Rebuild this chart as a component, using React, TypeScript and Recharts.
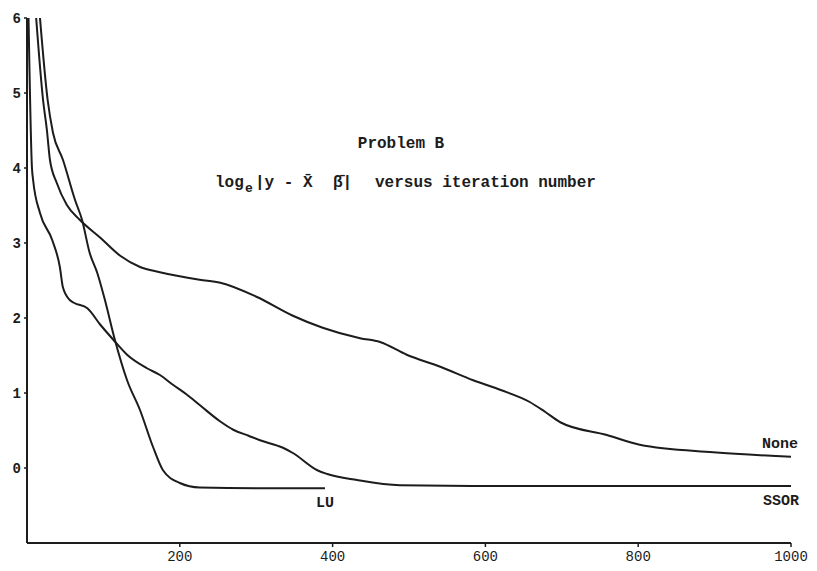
import React from 'react';
import { LineChart, Line, XAxis, YAxis } from 'recharts';

// Iteration numbers and log_e residual values
const luIter = [17, 27, 34, 47, 63, 72, 82, 92, 102, 115, 131, 148, 165, 178, 200, 226, 300, 390];
const luVal = [6.0, 4.91, 4.47, 4.11, 3.57, 3.31, 2.87, 2.6, 2.24, 1.71, 1.17, 0.77, 0.28, -0.03, -0.2, -0.26, -0.27, -0.27];

const ssorIter = [2, 6.5, 8, 17, 33, 43, 47, 56, 62, 79, 96, 113, 131, 157, 174, 191, 209, 226, 253, 270, 290, 305, 335, 348, 380, 393, 432, 488, 600, 800, 1000];
const ssorVal = [6.0, 4.0, 3.84, 3.4, 3.04, 2.68, 2.41, 2.24, 2.2, 2.13, 1.91, 1.71, 1.51, 1.33, 1.24, 1.11, 0.98, 0.84, 0.62, 0.51, 0.43, 0.37, 0.27, 0.2, -0.03, -0.08, -0.16, -0.23, -0.24, -0.24, -0.24];

const noneIter = [12, 21, 26, 30, 39, 52, 69, 96, 122, 148, 174, 226, 253, 301, 348, 387, 436, 462, 497, 541, 584, 620, 658, 678, 698, 759, 802, 898, 1000];
const noneVal = [6.0, 4.91, 4.51, 4.11, 3.8, 3.51, 3.31, 3.07, 2.83, 2.68, 2.61, 2.51, 2.47, 2.28, 2.03, 1.87, 1.73, 1.68, 1.51, 1.35, 1.17, 1.04, 0.88, 0.75, 0.61, 0.44, 0.31, 0.21, 0.15];

const xTicks = [200, 400, 600, 800, 1000];
const yTicks = [0, 1, 2, 3, 4, 5, 6];

const seriesNames = ['LU', 'SSOR', 'None'];

const toRows = (xs: number[], ys: number[]) => xs.map((x, i) => ({ x, y: ys[i] }));

const luData = toRows(luIter, luVal);
const ssorData = toRows(ssorIter, ssorVal);
const noneData = toRows(noneIter, noneVal);

const FONT = '"Liberation Mono", "DejaVu Sans Mono", monospace';
const INK = '#1c1c1c';

const endLabel = (name: string, last: number, dx: number, dy: number, anchor: string) =>
  (props: any) => {
    if (props.index !== last) return null;
    return (
      <text
        key={name}
        x={props.x + dx}
        y={props.y + dy}
        textAnchor={anchor as any}
        fontFamily={FONT}
        fontSize={15}
        fontWeight="bold"
        fill={INK}
      >
        {name}
      </text>
    );
  };

export default function App() {
  return (
    <div style={{ position: 'absolute', left: 0, top: 0, width: 817, height: 571, background: '#fff' }}>
      <LineChart
        width={817}
        height={571}
        margin={{ top: 18, right: 26, bottom: 3, left: 0 }}
        style={{ position: 'absolute', left: 0, top: 0 }}
      >
        <XAxis
          type="number"
          dataKey="x"
          domain={[0, 1000]}
          ticks={xTicks}
          allowDuplicatedCategory={false}
          height={25}
          axisLine={{ stroke: INK, strokeWidth: 2 }}
          tickLine={{ stroke: INK, strokeWidth: 1.5 }}
          tickSize={4}
          tickMargin={4}
          tick={{ fontFamily: FONT, fontSize: 14, fill: INK }}
        />
        <YAxis
          type="number"
          dataKey="y"
          domain={[-1, 6]}
          ticks={yTicks}
          width={27}
          axisLine={{ stroke: INK, strokeWidth: 2 }}
          tickLine={{ stroke: INK, strokeWidth: 1.5 }}
          tickSize={3}
          tickMargin={3}
          tick={{ fontFamily: FONT, fontSize: 14, fontWeight: 'bold', fill: INK }}
        />
        <Line
          data={luData}
          dataKey="y"
          name={seriesNames[0]}
          type="monotone"
          stroke={INK}
          strokeWidth={2}
          dot={false}
          isAnimationActive={false}
          label={endLabel(seriesNames[0], luData.length - 1, 0, 19, 'middle')}
        />
        <Line
          data={ssorData}
          dataKey="y"
          name={seriesNames[1]}
          type="monotone"
          stroke={INK}
          strokeWidth={2}
          dot={false}
          isAnimationActive={false}
          label={endLabel(seriesNames[1], ssorData.length - 1, 8, 19, 'end')}
        />
        <Line
          data={noneData}
          dataKey="y"
          name={seriesNames[2]}
          type="monotone"
          stroke={INK}
          strokeWidth={2}
          dot={false}
          isAnimationActive={false}
          label={endLabel(seriesNames[2], noneData.length - 1, 7, -9, 'end')}
        />
      </LineChart>
      <svg width={817} height={571} style={{ position: 'absolute', left: 0, top: 0, pointerEvents: 'none' }}>
        <text x={401} y={148} textAnchor="middle" fontFamily={FONT} fontSize={16} fontWeight="bold" fill={INK}>
          Problem B
        </text>
        <text y={187} fontFamily={FONT} fontSize={16} fontWeight="bold" fill={INK}>
          <tspan x={215}>log</tspan>
          <tspan x={245} dy={5} fontSize={13}>e</tspan>
          <tspan x={255} dy={-5}>{'|y - X\u0304'}</tspan>
          <tspan x={333}>{'\u03B2\u0304|'}</tspan>
          <tspan x={375}>versus iteration number</tspan>
        </text>
      </svg>
    </div>
  );
}
